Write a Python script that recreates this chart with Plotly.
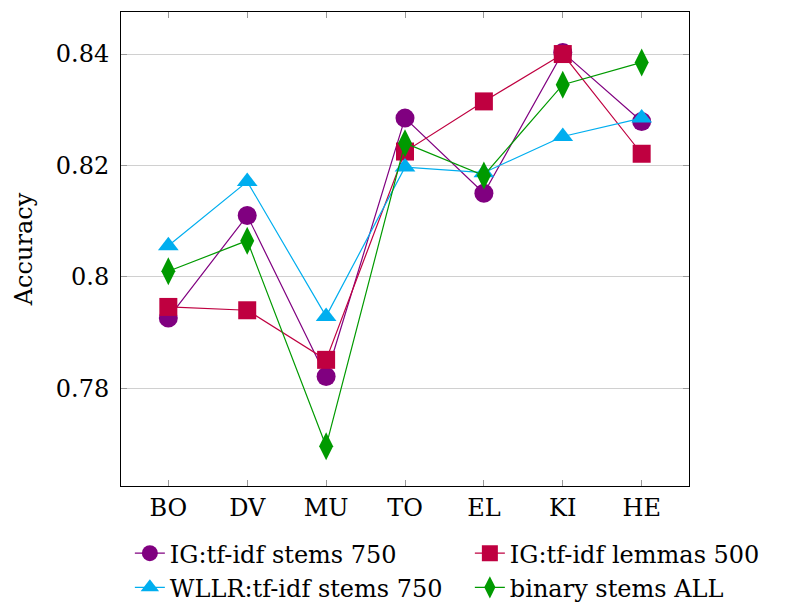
import plotly.graph_objects as go

categories = ["BO", "DV", "MU", "TO", "EL", "KI", "HE"]
ig_stems = [0.7926, 0.8110, 0.7821, 0.8285, 0.8150, 0.8403, 0.8279]
ig_lemmas = [0.7946, 0.7940, 0.7851, 0.8225, 0.8315, 0.8400, 0.8221]
wllr_stems = [0.8056, 0.8171, 0.7929, 0.8197, 0.8187, 0.8252, 0.8285]
binary_all = [0.8010, 0.8065, 0.7696, 0.8240, 0.8182, 0.8345, 0.8385]

names = ["IG:tf-idf stems 750", "IG:tf-idf lemmas 500",
         "WLLR:tf-idf stems 750", "binary stems ALL"]
series = [ig_stems, ig_lemmas, wllr_stems, binary_all]
colors = ["#800080", "#BF0040", "#00AEEF", "#009A00"]
symbols = ["circle", "square", "triangle-up", "diamond-tall"]
sizes = [19, 18, 18, 20]

FONT = "DejaVu Serif"

fig = go.Figure()
xs = list(range(len(categories)))
for name, vals, col, sym, sz in zip(names, series, colors, symbols, sizes):
    fig.add_trace(go.Scatter(
        x=xs, y=vals, name=name, mode="lines+markers",
        line=dict(color=col, width=1.2),
        marker=dict(color=col, symbol=sym, size=sz, line=dict(width=0)),
    ))

fig.update_layout(
    width=795, height=604,
    margin=dict(l=121, r=106, t=12, b=118, autoexpand=False),
    paper_bgcolor="white", plot_bgcolor="white",
    font=dict(family=FONT, size=23, color="black"),
    showlegend=True,
    legend=dict(
        orientation="h", x=-0.002, xanchor="left", y=-0.095, yanchor="top",
        entrywidth=285, entrywidthmode="pixels", indentation=10,
        font=dict(family=FONT, size=24), tracegroupgap=0, itemwidth=30,
        bgcolor="rgba(0,0,0,0)",
    ),
)
fig.update_xaxes(
    range=[-0.6, 6.6], tickmode="array", tickvals=xs, ticktext=categories,
    showgrid=False, ticks="inside", ticklen=6, tickcolor="#999999",
    showline=True, linecolor="black", linewidth=1, mirror="ticks",
    zeroline=False, tickfont=dict(size=24),
)
fig.update_yaxes(
    title=dict(text="Accuracy", standoff=16, font=dict(size=24)),
    range=[0.76245, 0.84755], tickmode="array",
    tickvals=[0.78, 0.80, 0.82, 0.84], ticktext=["0.78", "0.8", "0.82", "0.84"],
    showgrid=True, gridcolor="#d0d0d0", gridwidth=1,
    ticks="inside", ticklen=6, tickcolor="#999999",
    showline=True, linecolor="black", linewidth=1, mirror="ticks",
    zeroline=False, tickfont=dict(size=24), ticklabelstandoff=6,
)

fig.write_html("out.html")
